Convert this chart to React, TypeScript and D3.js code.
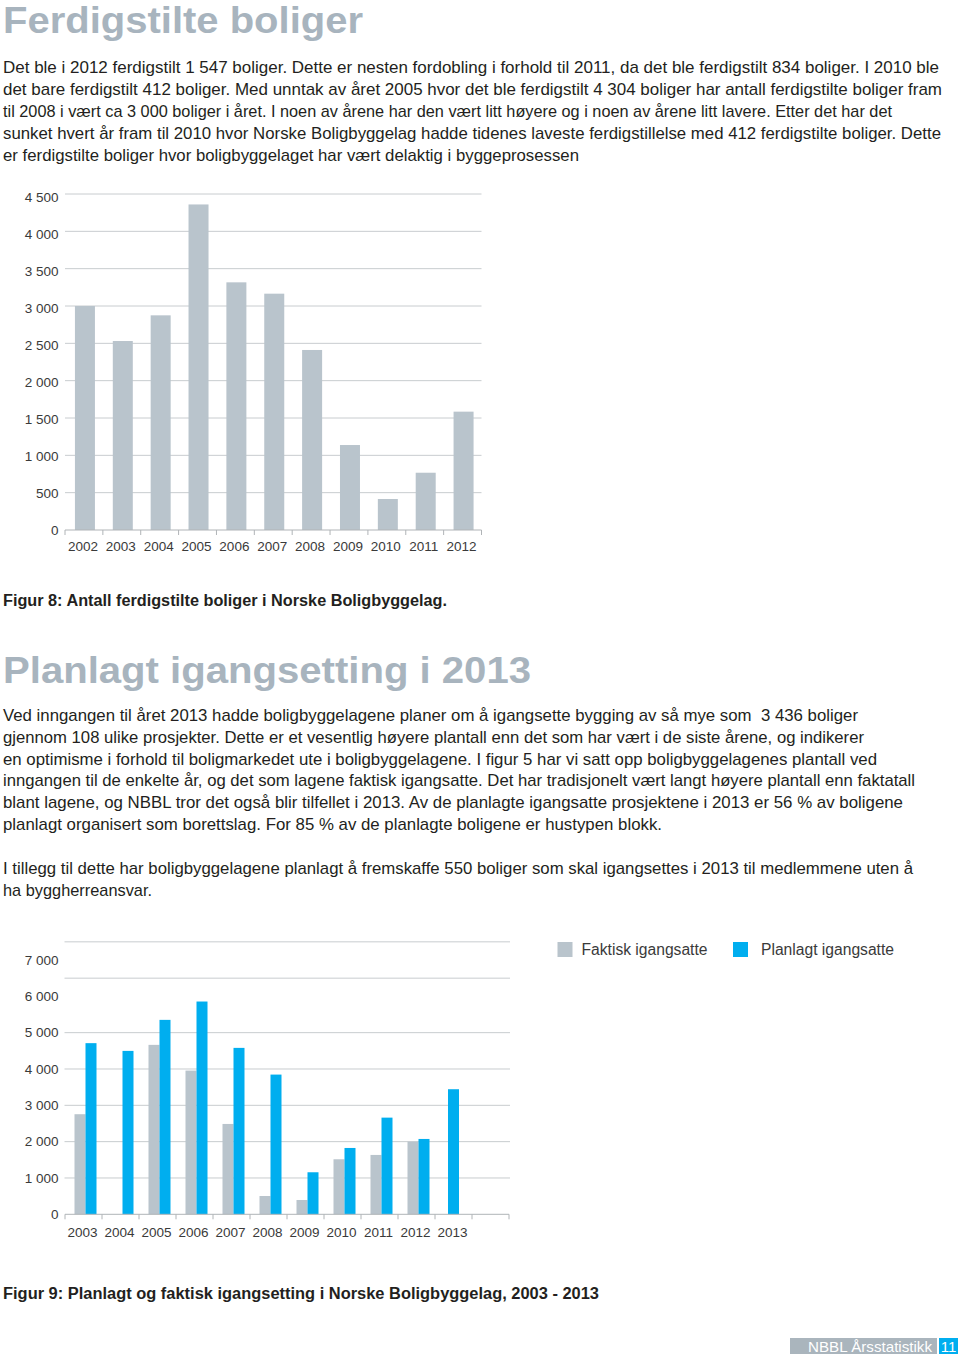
import React from "react";
import * as d3 from "d3";

// ---------- data ----------
const years1 = ["2002", "2003", "2004", "2005", "2006", "2007", "2008", "2009", "2010", "2011", "2012"];
const ferdigstilte = [3000, 2531, 2875, 4360, 3317, 3165, 2411, 1138, 415, 767, 1585];
const ticks1 = [0, 500, 1000, 1500, 2000, 2500, 3000, 3500, 4000, 4500];

const years2 = ["2003", "2004", "2005", "2006", "2007", "2008", "2009", "2010", "2011", "2012", "2013"];
const faktisk: (number | null)[] = [2755, 0, 4664, 3956, 2487, 504, 394, 1515, 1634, 2000, null];
const planlagt = [4711, 4498, 5352, 5857, 4581, 3846, 1157, 1826, 2661, 2074, 3443];
const ticks2 = [0, 1000, 2000, 3000, 4000, 5000, 6000, 7000];
const grid2 = [1000, 2000, 3000, 4000, 5000, 6500, 7500];
const legendLabels = ["Faktisk igangsatte", "Planlagt igangsatte"];

const title1 = "Ferdigstilte boliger";
const para1 = [
  "Det ble i 2012 ferdigstilt 1 547 boliger. Dette er nesten fordobling i forhold til 2011, da det ble ferdigstilt 834 boliger. I 2010 ble",
  "det bare ferdigstilt 412 boliger. Med unntak av året 2005 hvor det ble ferdigstilt 4 304 boliger har antall ferdigstilte boliger fram",
  "til 2008 i vært ca 3 000 boliger i året. I noen av årene har den vært litt høyere og i noen av årene litt lavere. Etter det har det",
  "sunket hvert år fram til 2010 hvor Norske Boligbyggelag hadde tidenes laveste ferdigstillelse med 412 ferdigstilte boliger. Dette",
  "er ferdigstilte boliger hvor boligbyggelaget har vært delaktig i byggeprosessen",
];
const para1Len = [936, 939, 889, 938, 576];
const caption1 = "Figur 8: Antall ferdigstilte boliger i Norske Boligbyggelag.";
const title2 = "Planlagt igangsetting i 2013";
const para2 = [
  "Ved inngangen til året 2013 hadde boligbyggelagene planer om å igangsette bygging av så mye som  3 436 boliger",
  "gjennom 108 ulike prosjekter. Dette er et vesentlig høyere plantall enn det som har vært i de siste årene, og indikerer",
  "en optimisme i forhold til boligmarkedet ute i boligbyggelagene. I figur 5 har vi satt opp boligbyggelagenes plantall ved",
  "inngangen til de enkelte år, og det som lagene faktisk igangsatte. Det har tradisjonelt vært langt høyere plantall enn faktatall",
  "blant lagene, og NBBL tror det også blir tilfellet i 2013. Av de planlagte igangsatte prosjektene i 2013 er 56 % av boligene",
  "planlagt organisert som borettslag. For 85 % av de planlagte boligene er hustypen blokk.",
];
const para2Len = [855, 861, 874, 912, 900, 659];
const para3 = [
  "I tillegg til dette har boligbyggelagene planlagt å fremskaffe 550 boliger som skal igangsettes i 2013 til medlemmene uten å",
  "ha byggherreansvar.",
];
const para3Len = [910, 149];
const caption2 = "Figur 9: Planlagt og faktisk igangsetting i Norske Boligbyggelag, 2003 - 2013";
const footerText = "NBBL Årsstatistikk";
const pageNo = "11";

// ---------- styles ----------
const FONT = "'Liberation Sans', Arial, Helvetica, sans-serif";
const TEXT = "#231f20";
const TITLE = "#a8b4be";
const GREY = "#b9c4cc";
const BLUE = "#00aeef";
const GRID = "#c8cccf";
const AXIS = "#b0b4b7";
const TICK_TXT = "#3a3a3a";

function fmt(v: number) {
  return d3.format(",")(v).replace(/,/g, " ");
}

function Para({ lines, lens, y0, step }: { lines: string[]; lens: number[]; y0: number; step: number }) {
  return (
    <g fontFamily={FONT} fontSize={17} fill={TEXT}>
      {lines.map((l, i) => (
        <text key={i} x={3} y={y0 + i * step} textLength={lens[i]} lengthAdjust="spacingAndGlyphs" style={{ whiteSpace: "pre" }}>
          {l}
        </text>
      ))}
    </g>
  );
}

function Chart1() {
  const x = d3.scaleBand<string>().domain(years1).range([65, 481.5]);
  const y = d3.scaleLinear().domain([0, 4500]).range([530, 194]);
  const yLabel = d3.scaleLinear().domain([0, 4500]).range([530.5, 197.5]);
  const bw = 20;
  return (
    <g fontFamily={FONT}>
      {ticks1.filter((t) => t > 0).map((t) => (
        <line key={t} x1={65} x2={481.5} y1={y(t)} y2={y(t)} stroke={GRID} strokeWidth={1} />
      ))}
      {years1.map((yr, i) => (
        <rect key={yr} x={x(yr)! + (x.bandwidth() - bw) / 2 + 1} width={bw} y={y(ferdigstilte[i])} height={y(0) - y(ferdigstilte[i])} fill={GREY} />
      ))}
      <line x1={65} x2={481.5} y1={y(0)} y2={y(0)} stroke={AXIS} strokeWidth={1} />
      {years1.map((yr) => (
        <line key={"t" + yr} x1={x(yr)!} x2={x(yr)!} y1={y(0)} y2={y(0) + 5} stroke={AXIS} />
      ))}
      <line x1={481.5} x2={481.5} y1={y(0)} y2={y(0) + 5} stroke={AXIS} />
      {ticks1.map((t) => (
        <text key={"l" + t} x={58.5} y={yLabel(t) + 4.7} textAnchor="end" fontSize={13.5} fill={TICK_TXT}>
          {fmt(t)}
        </text>
      ))}
      {years1.map((yr) => (
        <text key={"x" + yr} x={x(yr)! + x.bandwidth() / 2 - 1} y={551} textAnchor="middle" fontSize={13.5} fill={TICK_TXT}>
          {yr}
        </text>
      ))}
    </g>
  );
}

function Chart2() {
  const slots = [...years2, ""];
  const x = d3.scaleBand<string>().domain(slots).range([65, 509]);
  const y = d3.scaleLinear().domain([0, 7000]).range([1214.3, 960]);
  const bw = 11;
  return (
    <g fontFamily={FONT}>
      {grid2.map((t) => (
        <line key={t} x1={64.5} x2={510} y1={y(t)} y2={y(t)} stroke={GRID} strokeWidth={1} />
      ))}
      {years2.map((yr, i) => {
        const f = faktisk[i];
        const p = planlagt[i];
        const c = x(yr)! + x.bandwidth() / 2 + 2;
        if (f === null) {
          const cx = x(yr)! + x.bandwidth() / 2;
          return <rect key={yr} x={cx - bw / 2} width={bw} y={y(p)} height={y(0) - y(p)} fill={BLUE} />;
        }
        return (
          <g key={yr}>
            <rect x={c - bw} width={bw} y={y(f)} height={y(0) - y(f)} fill={GREY} />
            <rect x={c} width={bw} y={y(p)} height={y(0) - y(p)} fill={BLUE} />
          </g>
        );
      })}
      <line x1={65} x2={509} y1={y(0)} y2={y(0)} stroke={AXIS} strokeWidth={1} />
      {slots.map((s, i) => (
        <line key={"t" + i} x1={x(s)!} x2={x(s)!} y1={y(0)} y2={y(0) + 5} stroke={AXIS} />
      ))}
      <line x1={509} x2={509} y1={y(0)} y2={y(0) + 5} stroke={AXIS} />
      {ticks2.map((t) => (
        <text key={"l" + t} x={58.5} y={y(t) + 4.7} textAnchor="end" fontSize={13.5} fill={TICK_TXT}>
          {fmt(t)}
        </text>
      ))}
      {years2.map((yr) => (
        <text key={"x" + yr} x={x(yr)! + x.bandwidth() / 2 - 1} y={1236.5} textAnchor="middle" fontSize={13.5} fill={TICK_TXT}>
          {yr}
        </text>
      ))}
      {/* legend */}
      <rect x={557.5} y={942} width={15} height={15} fill={GREY} />
      <text x={581.5} y={954.5} fontSize={16} fill={TICK_TXT} textLength={126} lengthAdjust="spacingAndGlyphs">
        {legendLabels[0]}
      </text>
      <rect x={733} y={942} width={15} height={15} fill={BLUE} />
      <text x={761} y={954.5} fontSize={16} fill={TICK_TXT} textLength={133} lengthAdjust="spacingAndGlyphs">
        {legendLabels[1]}
      </text>
    </g>
  );
}

export default function App() {
  return (
    <svg width={960} height={1358} style={{ position: "absolute", left: 0, top: 0, background: "#fff" }}>
      <rect x={0} y={0} width={960} height={1358} fill="#fff" />
      <text x={3} y={32.5} fontFamily={FONT} fontWeight="bold" fontSize={37} fill={TITLE} textLength={360} lengthAdjust="spacingAndGlyphs">
        {title1}
      </text>
      <Para lines={para1} lens={para1Len} y0={73.3} step={21.9} />
      <Chart1 />
      <text x={3} y={605.5} fontFamily={FONT} fontWeight="bold" fontSize={16} fill={TEXT} textLength={444} lengthAdjust="spacingAndGlyphs">
        {caption1}
      </text>
      <text x={3} y={683} fontFamily={FONT} fontWeight="bold" fontSize={37} fill={TITLE} textLength={528} lengthAdjust="spacingAndGlyphs">
        {title2}
      </text>
      <Para lines={para2} lens={para2Len} y0={720.7} step={21.9} />
      <Para lines={para3} lens={para3Len} y0={874.3} step={21.9} />
      <Chart2 />
      <text x={3} y={1298.5} fontFamily={FONT} fontWeight="bold" fontSize={16} fill={TEXT} textLength={596} lengthAdjust="spacingAndGlyphs">
        {caption2}
      </text>
      {/* footer */}
      <rect x={790} y={1338} width={147} height={16} fill="#aab5bd" />
      <text x={808} y={1351.5} fontFamily={FONT} fontSize={15} fill="#fff" textLength={124} lengthAdjust="spacingAndGlyphs">
        {footerText}
      </text>
      <rect x={939} y={1338} width={19} height={16} fill={BLUE} />
      <text x={948.5} y={1351.5} fontFamily={FONT} fontSize={15} fill="#fff" textAnchor="middle">
        {pageNo}
      </text>
    </svg>
  );
}
